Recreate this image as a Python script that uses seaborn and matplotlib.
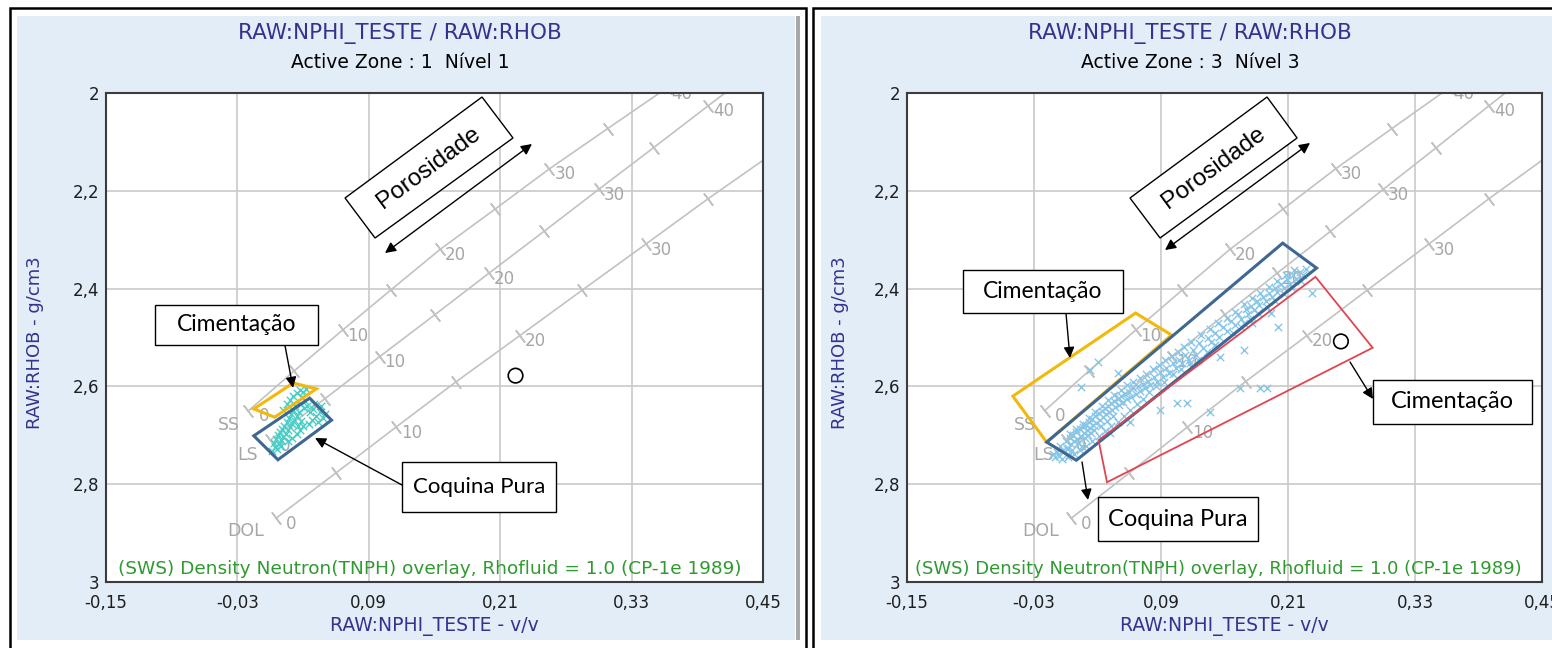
import numpy as np
import pandas as pd
import seaborn as sns
import matplotlib
matplotlib.use("Agg")
import matplotlib.pyplot as plt
from matplotlib.patches import Rectangle, Polygon

# ---------------- data ----------------
x_ticks = [-0.15, -0.03, 0.09, 0.21, 0.33, 0.45]
x_tick_labels = ["-0,15", "-0,03", "0,09", "0,21", "0,33", "0,45"]
y_ticks = [2.0, 2.2, 2.4, 2.6, 2.8, 3.0]
y_tick_labels = ["2", "2,2", "2,4", "2,6", "2,8", "3"]

porosity_pu = [0, 5, 10, 15, 20, 25, 30, 35, 40, 45]
ss_nphi = [-0.020, 0.022, 0.066, 0.110, 0.155, 0.205, 0.255, 0.308, 0.362, 0.420]
ss_rhob = [2.650, 2.568, 2.485, 2.403, 2.320, 2.238, 2.155, 2.073, 1.990, 1.908]
ls_nphi = [0.000, 0.050, 0.100, 0.150, 0.200, 0.250, 0.300, 0.350, 0.400, 0.450]
ls_rhob = [2.710, 2.625, 2.539, 2.454, 2.368, 2.283, 2.197, 2.112, 2.026, 1.941]
dol_nphi = [0.005, 0.060, 0.115, 0.170, 0.228, 0.285, 0.343, 0.400, 0.460, 0.520]
dol_rhob = [2.870, 2.777, 2.683, 2.590, 2.496, 2.403, 2.309, 2.216, 2.122, 2.029]
lith_names = ["SS", "LS", "DOL"]

# zone 1 samples (left panel)
z1_nphi = [0.002, 0.004, 0.003, 0.006, 0.005, 0.008, 0.007, 0.010, 0.009, 0.012, 0.011, 0.014,
           0.013, 0.016, 0.015, 0.018, 0.017, 0.020, 0.019, 0.022, 0.021, 0.024, 0.023, 0.026,
           0.012, 0.015, 0.018, 0.021, 0.024, 0.027, 0.030, 0.033, 0.029, 0.032, 0.028, 0.031,
           0.034, 0.036, 0.039, 0.042, 0.045, 0.048, 0.050, 0.044, 0.038, 0.035, 0.030, 0.027,
           0.024, 0.020, 0.016, 0.010, 0.028, 0.025, 0.040, 0.046]
z1_rhob = [2.732, 2.724, 2.716, 2.728, 2.708, 2.718, 2.700, 2.710, 2.694, 2.703, 2.688, 2.697,
           2.680, 2.690, 2.672, 2.684, 2.664, 2.676, 2.656, 2.668, 2.648, 2.660, 2.640, 2.652,
           2.648, 2.636, 2.628, 2.620, 2.614, 2.608, 2.612, 2.606, 2.622, 2.630, 2.636, 2.644,
           2.640, 2.652, 2.646, 2.660, 2.652, 2.664, 2.656, 2.672, 2.668, 2.676, 2.682, 2.690,
           2.698, 2.705, 2.712, 2.722, 2.670, 2.680, 2.636, 2.640]

# zone 3 samples (right panel)
z3_nphi = [-0.012, -0.008, -0.005, -0.003, 0.000, 0.002, 0.004, 0.005, 0.007, 0.008, 0.010, 0.011,
           0.013, 0.014, 0.016, 0.017, 0.019, 0.020, 0.022, 0.023, 0.025, 0.026, 0.028, 0.029,
           0.031, 0.032, 0.034, 0.035, 0.037, 0.038, 0.040, 0.041, 0.043, 0.044, 0.046, 0.047,
           0.049, 0.050, 0.052, 0.054, 0.056, 0.058, 0.060, 0.062, 0.064, 0.066, 0.068, 0.070,
           0.073, 0.075, 0.078, 0.080, 0.083, 0.086, 0.089, 0.092, 0.095, 0.098, 0.101, 0.104,
           0.107, 0.110, 0.113, 0.116, 0.120, 0.123, 0.126, 0.130, 0.134, 0.137, 0.141, 0.145,
           0.149, 0.152, 0.156, 0.160, 0.163, 0.166, 0.170, 0.172, 0.175, 0.178, 0.181, 0.183,
           0.186, 0.189, 0.192, 0.195, 0.198, 0.200, 0.203, 0.206, 0.209, 0.212, 0.215, 0.218,
           0.221, 0.224, 0.227,
           -0.006, 0.001, 0.006, 0.012, 0.018, 0.024, 0.003, 0.015, 0.027, 0.033, 0.039, 0.045, 0.021,
           0.168, 0.201, 0.146, 0.165, 0.184, 0.190, 0.115, 0.105, 0.089, 0.136, 0.061, 0.042,
           0.233, 0.168, 0.023, 0.030, 0.049, 0.014,
           -0.010, -0.004, 0.002, 0.008, 0.013, 0.019, 0.025, 0.031, 0.037, 0.043, 0.049, 0.055,
           0.061, 0.067, 0.073, 0.079, 0.004, 0.010, 0.016, 0.022, 0.028, 0.034, 0.040, 0.046,
           0.052, 0.058, 0.064, 0.070, 0.076, 0.082, 0.088, 0.094, 0.100, 0.106, 0.112, 0.118,
           0.085, 0.093, 0.101, 0.109, 0.117, 0.125, 0.133, 0.141, 0.128, 0.136, 0.144, 0.152,
           0.160, 0.168, 0.176, 0.184, 0.192, 0.200, 0.208, 0.216, 0.158, 0.166, 0.174, 0.182,
           0.190, 0.198, 0.206, 0.214, 0.222, 0.176, 0.194]
z3_rhob = [2.738, 2.735, 2.722, 2.731, 2.712, 2.725, 2.706, 2.718, 2.700, 2.712, 2.694, 2.707,
           2.688, 2.701, 2.684, 2.695, 2.678, 2.690, 2.672, 2.686, 2.666, 2.679, 2.660, 2.674,
           2.655, 2.668, 2.650, 2.663, 2.645, 2.657, 2.640, 2.652, 2.634, 2.648, 2.630, 2.642,
           2.625, 2.638, 2.620, 2.632, 2.615, 2.626, 2.612, 2.622, 2.604, 2.616, 2.600, 2.610,
           2.595, 2.603, 2.588, 2.597, 2.580, 2.590, 2.570, 2.580, 2.562, 2.572, 2.553, 2.562,
           2.545, 2.552, 2.536, 2.546, 2.525, 2.535, 2.512, 2.522, 2.500, 2.510, 2.490, 2.498,
           2.478, 2.487, 2.466, 2.475, 2.452, 2.462, 2.442, 2.452, 2.436, 2.444, 2.425, 2.434,
           2.418, 2.426, 2.408, 2.418, 2.398, 2.406, 2.390, 2.398, 2.381, 2.390, 2.372, 2.380,
           2.366, 2.372, 2.360,
           2.742, 2.728, 2.730, 2.716, 2.705, 2.696, 2.740, 2.722, 2.690, 2.680, 2.670, 2.660, 2.700,
           2.526, 2.479, 2.540, 2.603, 2.603, 2.603, 2.634, 2.634, 2.648, 2.652, 2.673, 2.695,
           2.409, 2.470, 2.566, 2.550, 2.573, 2.601,
           2.745, 2.748, 2.745, 2.738, 2.730, 2.722, 2.712, 2.702, 2.692, 2.682, 2.672, 2.660,
           2.648, 2.636, 2.625, 2.612, 2.698, 2.688, 2.676, 2.664, 2.652, 2.640, 2.628, 2.618,
           2.608, 2.598, 2.590, 2.582, 2.574, 2.565, 2.556, 2.546, 2.538, 2.530, 2.520, 2.510,
           2.600, 2.590, 2.575, 2.565, 2.552, 2.545, 2.530, 2.515, 2.495, 2.482, 2.470, 2.460,
           2.448, 2.432, 2.420, 2.408, 2.396, 2.385, 2.372, 2.362, 2.490, 2.478, 2.462, 2.450,
           2.438, 2.425, 2.412, 2.398, 2.385, 2.470, 2.450]

# reference (fluid/open) points
z1_ref_nphi, z1_ref_rhob = [0.224], [2.578]
z3_ref_nphi, z3_ref_rhob = [0.260], [2.508]

# interpretation polygons (NPHI, RHOB)
z1_cim_x = [-0.015, 0.021, 0.042, 0.004]
z1_cim_y = [2.646, 2.593, 2.605, 2.663]
z1_coq_x = [-0.015, 0.036, 0.056, 0.007]
z1_coq_y = [2.701, 2.624, 2.669, 2.750]
z3_cim_x = [-0.050, 0.066, 0.100, -0.018]
z3_cim_y = [2.620, 2.450, 2.495, 2.714]
z3_coq_x = [-0.018, 0.205, 0.237, 0.010]
z3_coq_y = [2.714, 2.307, 2.358, 2.751]
z3_cim2_x = [0.031, 0.236, 0.290, 0.039]
z3_cim2_y = [2.710, 2.376, 2.521, 2.796]

# ---------------- figure ----------------
sns.set_theme(style="white")
plt.rcParams["font.family"] = ["DejaVu Sans"]

W, H = 1552, 648
fig = plt.figure(figsize=(W / 100, H / 100), dpi=100)
fig.patch.set_facecolor("white")

BG = "#e2edf8"
TITLE_C = "#33338f"


def px_rect(x0, y0, x1, y1, **kw):
    return Rectangle((x0 / W, 1 - y1 / H), (x1 - x0) / W, (y1 - y0) / H,
                     transform=fig.transFigure, **kw)


for r in [px_rect(17, 16, 795, 640, fc=BG, ec="none", zorder=-5),
          px_rect(796, 16, 800, 640, fc="#a8a8a8", ec="none", zorder=-4),
          px_rect(10, 8, 806, 700, fill=False, ec="black", lw=1.8, zorder=-3),
          px_rect(821, 16, 1600, 640, fc=BG, ec="none", zorder=-5),
          px_rect(813, 8, 1600, 700, fill=False, ec="black", lw=1.8, zorder=-3)]:
    fig.add_artist(r)


def ftext(px, py, s, **kw):
    fig.text(px / W, 1 - py / H, s, ha="center", va="center", **kw)


axL = fig.add_axes([106 / W, 1 - 582 / H, 657 / W, 489 / H])
axR = fig.add_axes([907 / W, 1 - 582 / H, 635 / W, 489 / H])

lith = [(ss_nphi, ss_rhob, (-14, -10)), (ls_nphi, ls_rhob, (-16, -11)), (dol_nphi, dol_rhob, (-22, -9))]
LINE_C = "#c2c2c2"
LABEL_C = "#a6a6a6"


def setup(ax):
    ax.set_facecolor("white")
    ax.set_xlim(-0.15, 0.45)
    ax.set_ylim(3.0, 2.0)
    ax.set_xticks(x_ticks)
    ax.set_xticklabels(x_tick_labels)
    ax.set_yticks(y_ticks)
    ax.set_yticklabels(y_tick_labels)
    ax.tick_params(axis="y", length=0, pad=5, labelsize=12, colors="#1e1e1e")
    ax.tick_params(axis="x", length=0, pad=9, labelsize=12, colors="#1e1e1e")
    ax.grid(True, color="#cacaca", lw=1.2)
    ax.set_axisbelow(True)
    for s in ax.spines.values():
        s.set_color("#3c3c3c")
        s.set_linewidth(1.5)
        s.set_zorder(10)
    ax.set_xlabel("")
    ax.set_ylabel("")


def overlay(ax):
    for (xs, ys, noff), name in zip(lith, lith_names):
        sns.lineplot(x=xs, y=ys, sort=False, estimator=None, color=LINE_C, lw=1.2, ax=ax, zorder=2)
        p0 = ax.transData.transform((xs[0], ys[0]))
        p1 = ax.transData.transform((xs[-2], ys[-2]))
        ang = np.degrees(np.arctan2(p1[1] - p0[1], p1[0] - p0[0]))
        ax.plot(xs, ys, ls="none", marker=(2, 2, ang), ms=11, mec=LINE_C, mew=1.2, zorder=2)
        for x, y, p in zip(xs, ys, porosity_pu):
            if p % 10 == 0 and p <= 40:
                ax.annotate(str(p), (x, y), xytext=(11, -4), textcoords="offset points",
                            ha="center", va="center", fontsize=12, color=LABEL_C,
                            annotation_clip=False, clip_on=True, zorder=2)
        ax.annotate(name, (xs[0], ys[0]), xytext=noff, textcoords="offset points",
                    ha="center", va="center", fontsize=12.5, color=LABEL_C, zorder=2)


def textbox(ax, x0, y0, x1, y1, s, fs=16.5):
    ax.add_patch(Rectangle((x0, y0), x1 - x0, y1 - y0, fc="white", ec="black", lw=1.0, zorder=8))
    ax.text((x0 + x1) / 2, (y0 + y1) / 2, s, ha="center", va="center", fontsize=fs,
            family="Lato", color="black", zorder=9)


def arrow(ax, start, tip, style="-|>"):
    ax.annotate("", xy=tip, xytext=start,
                arrowprops=dict(arrowstyle=style, color="black", lw=1.0, mutation_scale=16,
                                shrinkA=0, shrinkB=0), zorder=9)


def porosidade(ax, corners_x, corners_y, cx, cy, a0, a1):
    ax.add_patch(Polygon(list(zip(corners_x, corners_y)), closed=True, fc="white", ec="black",
                         lw=1.0, zorder=8))
    ax.text(cx, cy, "Porosidade", rotation=36.4, rotation_mode="anchor", ha="center", va="center",
            fontsize=17.5, family="Liberation Sans", color="black", zorder=9)
    arrow(ax, a0, a1, style="<|-|>")


def green(ax, fx, fs):
    ax.text(fx, 0.026, "(SWS) Density Neutron(TNPH) overlay, Rhofluid = 1.0 (CP-1e 1989)",
            transform=ax.transAxes, ha="left", va="center", fontsize=fs, color="#2f9a2f", zorder=11)


# ---------------- left panel ----------------
setup(axL)
overlay(axL)
sns.scatterplot(x=z1_nphi, y=z1_rhob, marker="x", color="#46cfc6", s=28, linewidth=1.0, ax=axL, zorder=4)
axL.scatter(z1_ref_nphi, z1_ref_rhob, s=110, facecolors="none", edgecolors="black", linewidths=1.2, zorder=5)
axL.add_patch(Polygon(list(zip(z1_cim_x, z1_cim_y)), closed=True, fill=False, ec="#f2b80a", lw=2.2, zorder=6))
axL.add_patch(Polygon(list(zip(z1_coq_x, z1_coq_y)), closed=True, fill=False, ec="#3f6792", lw=2.2, zorder=6))
textbox(axL, -0.1053, 2.4335, 0.0436, 2.5153, "Cimentação")
arrow(axL, (0.0135, 2.517), (0.0208, 2.603))
textbox(axL, 0.1203, 2.7546, 0.2609, 2.8569, "Coquina Pura", fs=16)
arrow(axL, (0.1203, 2.8016), (0.0409, 2.7055))
porosidade(axL, [0.0683, 0.1934, 0.2217, 0.0957], [2.2147, 2.0082, 2.092, 2.2965], 0.1447, 2.1529,
           (0.1048, 2.3272), (0.239, 2.1043))
green(axL, 0.018, 13.3)

# ---------------- right panel ----------------
setup(axR)
overlay(axR)
sns.scatterplot(x=z3_nphi, y=z3_rhob, marker="x", color="#88c6e8", s=28, linewidth=1.0, ax=axR, zorder=4)
axR.scatter(z3_ref_nphi, z3_ref_rhob, s=110, facecolors="none", edgecolors="black", linewidths=1.2, zorder=5)
axR.add_patch(Polygon(list(zip(z3_cim_x, z3_cim_y)), closed=True, fill=False, ec="#f2b80a", lw=2.2, zorder=6))
axR.add_patch(Polygon(list(zip(z3_coq_x, z3_coq_y)), closed=True, fill=False, ec="#3f6792", lw=2.2, zorder=6))
axR.add_patch(Polygon(list(zip(z3_cim2_x, z3_cim2_y)), closed=True, fill=False, ec="#e04450", lw=1.3, zorder=6))
textbox(axR, -0.0971, 2.362, 0.0541, 2.4499, "Cimentação")
arrow(axR, (0.0003, 2.452), (0.004, 2.5419))
textbox(axR, 0.2903, 2.5869, 0.4406, 2.6769, "Cimentação", fs=17)
arrow(axR, (0.2686, 2.5501), (0.2903, 2.6258))
textbox(axR, 0.0305, 2.8262, 0.1817, 2.9162, "Coquina Pura", fs=17)
arrow(axR, (0.0154, 2.7546), (0.021, 2.8323))
porosidade(axR, [0.0607, 0.1902, 0.2186, 0.0891], [2.2147, 2.0082, 2.092, 2.2965], 0.1397, 2.1529,
           (0.0938, 2.3211), (0.2308, 2.1022))
green(axR, 0.012, 13.0)

# ---------------- titles & axis labels ----------------
for cx, zone, axc, ylx in [(400, "Active Zone : 1  Nível 1", 434, 35),
                           (1190, "Active Zone : 3  Nível 3", 1224, 840)]:
    ftext(cx, 33, "RAW:NPHI_TESTE / RAW:RHOB", fontsize=15.5, color=TITLE_C)
    ftext(cx, 62, zone, fontsize=13.5, color="black")
    ftext(axc, 627, "RAW:NPHI_TESTE - v/v", fontsize=13.5, color=TITLE_C)
    ftext(ylx, 343, "RAW:RHOB - g/cm3", fontsize=13, color=TITLE_C, rotation=90)

fig.savefig("out.png", dpi=100, facecolor="white")
